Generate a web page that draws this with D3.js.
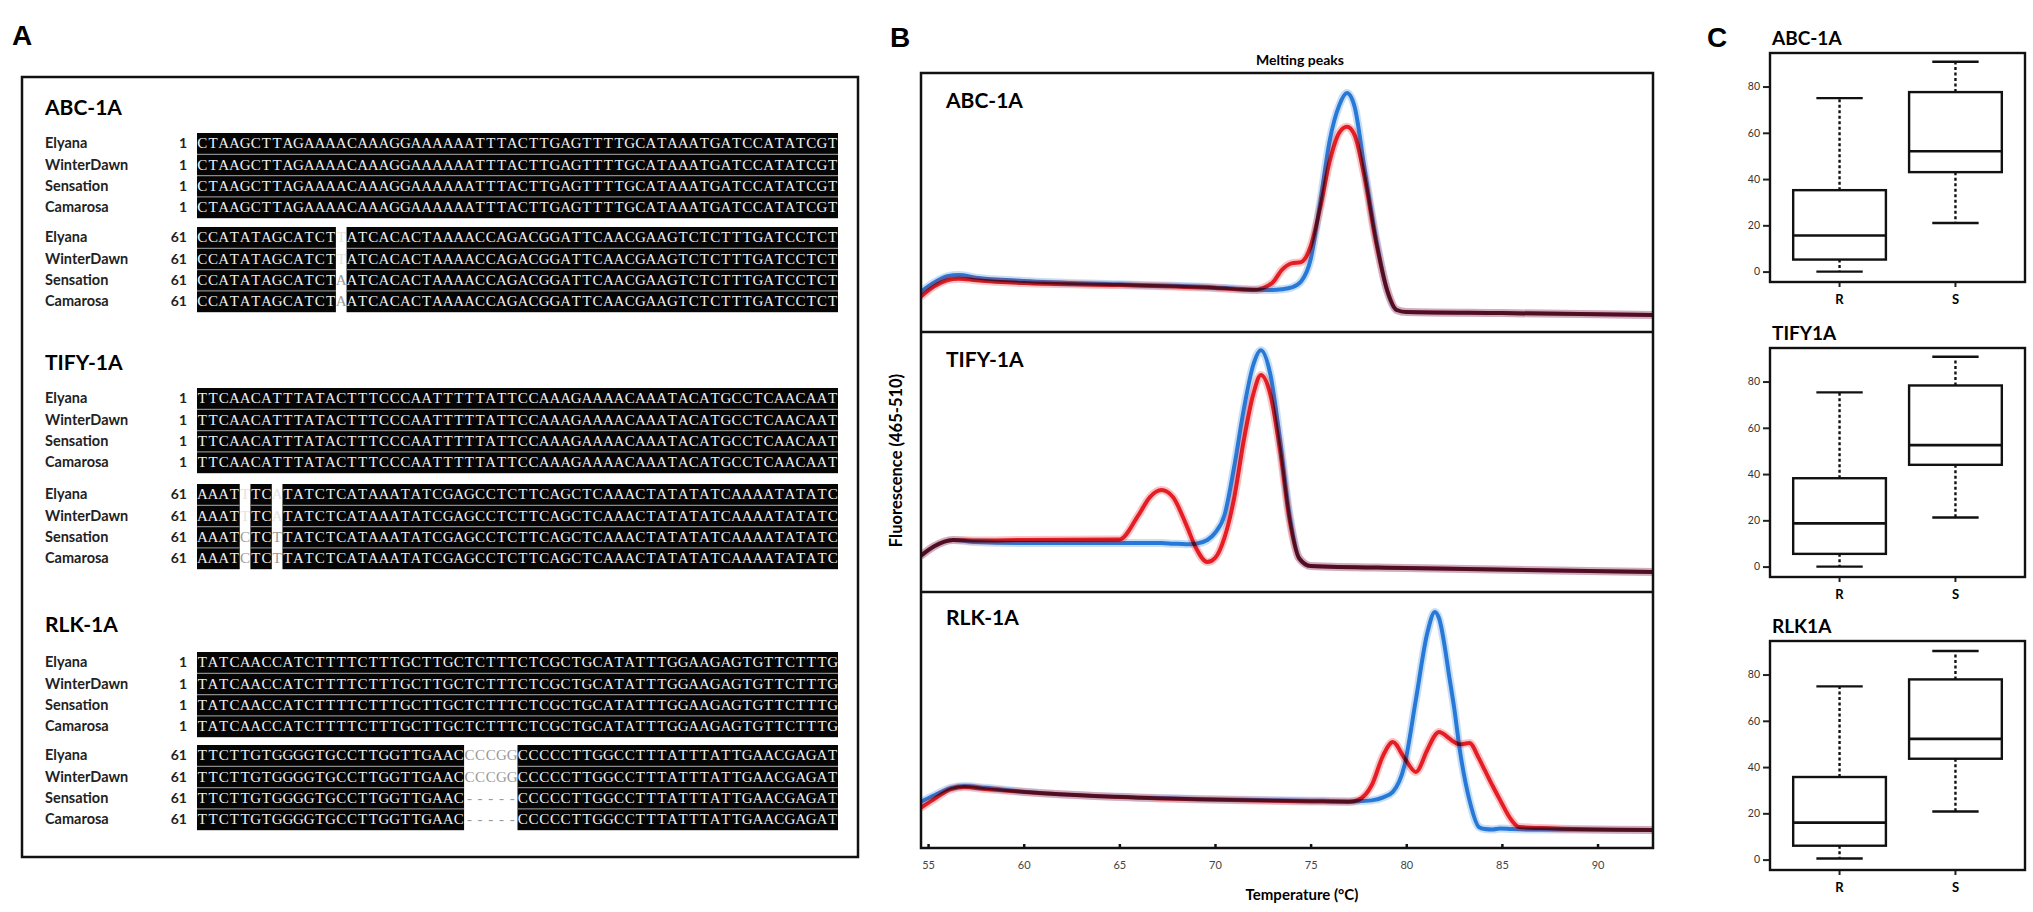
<!DOCTYPE html>
<html>
<head>
<meta charset="utf-8">
<script src="https://cdn.jsdelivr.net/npm/d3@7"></script>
<style>
  body { margin: 0; background: #fff; }
  svg { display: block; }
</style>
</head>
<body>
<div id="chart"></div>
<script>
// ==========================================================================
// DATA
// ==========================================================================

const cultivars = ['Elyana', 'WinterDawn', 'Sensation', 'Camarosa'];
const alignGenes = ['ABC-1A', 'TIFY-1A', 'RLK-1A'];
const blockStarts = [1, 61];

// consensus per block, a space marks a non-conserved column
const seqABC = [
    'CTAAGCTTAGAAAACAAAGGAAAAAATTTACTTGAGTTTTGCATAAATGATCCATATCGT',
    'CCATATAGCATCT ATCACACTAAAACCAGACGGATTCAACGAAGTCTCTTTGATCCTCT'
];
const seqTIFY = [
    'TTCAACATTTATACTTTCCCAATTTTTATTCCAAAGAAAACAAATACATGCCTCAACAAT',
    'AAAT TC TATCTCATAAATATCGAGCCTCTTCAGCTCAAACTATATATCAAAATATATC'
];
const seqRLK = [
    'TATCAACCATCTTTTCTTTGCTTGCTCTTTCTCGCTGCATATTTGGAAGAGTGTTCTTTG',
    'TTCTTGTGGGGTGCCTTGGTTGAAC     CCCCCTTGGCCTTTATTTATTGAACGAGAT'
];
// variable columns: [column, residues per cultivar]
const varABC = [[], [[13, ['T', 'T', 'A', 'A']]]];
const varTIFY = [[], [[4, ['T', 'T', 'C', 'C']], [7, ['A', 'A', 'T', 'T']]]];
const varRLK = [[], [
    [25, ['C', 'C', '-', '-']], [26, ['C', 'C', '-', '-']], [27, ['C', 'C', '-', '-']],
    [28, ['G', 'G', '-', '-']], [29, ['G', 'G', '-', '-']]
]];

// melting peaks (relative height, % of sub-panel)
const meltGenes = ['ABC-1A', 'TIFY-1A', 'RLK-1A'];
const tempTicks = [55, 60, 65, 70, 75, 80, 85, 90];

const abcTemp = [54.6, 55.3, 56.0, 56.6, 57.5, 60, 65, 70, 72, 73, 73.5, 74.0, 74.5, 75.0, 75.5, 76.0, 76.5, 76.9, 77.3, 77.8, 78.4, 79.0, 79.5, 80, 85, 92.9];
const abcRed  = [13.5, 17.5, 20.0, 20.6, 20.0, 18.9, 18.1, 17.0, 16.2, 19.0, 24.0, 26.5, 27.0, 33.0, 48.0, 66.0, 77.0, 79.2, 76.0, 60.6, 35.5, 16.2, 8.5, 7.7, 7.3, 6.6];
const abcBlue = [15.4, 19.0, 21.5, 22.0, 21.0, 19.7, 18.4, 17.2, 16.4, 16.2, 16.5, 17.2, 19.5, 28.0, 50.0, 74.0, 87.6, 92.3, 87.0, 64.0, 37.0, 16.0, 8.5, 7.7, 7.3, 6.6];

const tifyTemp = [54.6, 55.3, 56.3, 57.5, 60, 65, 66, 66.6, 67.2, 67.8, 68.5, 69.0, 69.6, 70.0, 70.5, 71.0, 71.5, 72.0, 72.4, 72.9, 73.4, 73.9, 74.4, 75, 80, 92.9];
const tifyRed  = [13.8, 17.5, 20.0, 19.8, 20.0, 20.2, 29.6, 36.5, 39.2, 36.5, 25.8, 17.0, 11.5, 13.0, 21.0, 36.0, 58.0, 76.0, 83.5, 75.8, 54.6, 27.7, 13.0, 10.0, 9.2, 7.7];
const tifyBlue = [13.8, 17.5, 20.0, 19.2, 18.8, 18.8, 18.8, 18.8, 18.8, 18.6, 18.4, 18.6, 20.0, 22.7, 29.6, 48.0, 70.0, 87.3, 93.0, 83.5, 58.5, 29.6, 13.0, 10.0, 9.2, 7.7];

const rlkTemp = [54.6, 55.3, 56.2, 56.9, 58, 60, 65, 70, 75, 77, 77.5, 78.2, 78.8, 79.3, 79.9, 80.5, 81.1, 81.5, 81.7, 82.3, 82.5, 82.8, 83.3, 83.8, 84.1, 84.5, 84.9, 85.5, 85.9, 87, 92.9];
const rlkRed  = [15.6, 19.0, 23.0, 23.8, 23.0, 21.9, 19.9, 18.8, 18.2, 18.0, 18.8, 24.6, 36.3, 41.4, 35.2, 29.7, 38.3, 44.0, 45.3, 42.5, 41.4, 40.5, 41.0, 35.0, 30.5, 24.5, 18.8, 10.9, 8.2, 7.8, 7.0];
const rlkBlue = [18.0, 20.5, 23.5, 24.2, 23.5, 22.0, 20.0, 19.0, 18.5, 18.3, 18.3, 18.6, 19.8, 21.9, 32.0, 57.8, 84.0, 92.2, 90.0, 64.5, 55.0, 38.3, 18.8, 8.2, 7.4, 7.2, 7.6, 7.4, 7.3, 7.2, 7.0];

// boxplots: [min, q1, median, q3, max]
const boxGenes = ['ABC-1A', 'TIFY1A', 'RLK1A'];
const boxGroups = ['R', 'S'];
const boxTicks = [0, 20, 40, 60, 80];
const statsR = [[0, 5.2, 15.6, 35.2, 75.0], [0, 5.5, 18.7, 38.2, 75.3], [0.5, 6.0, 16.0, 35.7, 74.9]];
const statsS = [[21.0, 43.0, 52.0, 77.6, 90.7], [21.2, 44.0, 52.5, 78.3, 90.7], [20.8, 43.6, 52.2, 77.9, 90.2]];

// ==========================================================================
// LAYOUT
// ==========================================================================

const CFG = {
    width: 2033,
    height: 912,
    fontTitle: 'Lato, "Open Sans", sans-serif',
    fontLabel: '"Liberation Sans", Arial, sans-serif',
    red: '#e8141c',
    blue: '#1f7fdc',
    align: {
        frame: { x0: 22, y0: 77, x1: 858, y1: 857 },
        x0: 197, x1: 838, rowH: 21.3,
        titleY: [115, 370, 632],
        tops: [[133, 227], [388, 484], [652, 745]]
    },
    melt: {
        x0: 921, x1: 1653, y0: 73, y1: 848,
        splits: [73, 332, 592, 848]
    },
    box: {
        x0: 1770, x1: 2025, tops: [53, 348, 641], h: 229
    }
};

const svg = d3.select('#chart').append('svg')
    .attr('width', CFG.width)
    .attr('height', CFG.height);

function panelLetter(txt, x, y) {
    svg.append('text').attr('x', x).attr('y', y)
        .style('font-family', CFG.fontLabel).style('font-weight', 'bold')
        .style('font-size', '28px').text(txt);
}

// ==========================================================================
// PANEL A - ALIGNMENTS
// ==========================================================================

function drawAlignment() {
    const A = CFG.align;
    const g = svg.append('g').attr('class', 'panel-a');
    panelLetter('A', 12, 45);

    g.append('rect')
        .attr('x', A.frame.x0).attr('y', A.frame.y0)
        .attr('width', A.frame.x1 - A.frame.x0).attr('height', A.frame.y1 - A.frame.y0)
        .attr('fill', 'none').attr('stroke', '#111').attr('stroke-width', 2.5);

    const col = d3.scaleBand().domain(d3.range(60)).range([A.x0, A.x1]);
    const seqs = [seqABC, seqTIFY, seqRLK];
    const vars = [varABC, varTIFY, varRLK];

    alignGenes.forEach((gene, gi) => {
        g.append('text').attr('x', 45).attr('y', A.titleY[gi])
            .style('font-family', CFG.fontTitle).style('font-weight', 'bold')
            .style('font-size', '21px').text(gene);

        blockStarts.forEach((start, bi) => {
            const top = A.tops[gi][bi];
            const row = d3.scaleBand().domain(cultivars).range([top, top + 4 * A.rowH]);
            const seq = seqs[gi][bi];
            const varMap = new Map(vars[gi][bi]);

            // black runs of conserved columns
            const runs = [];
            let s = null;
            for (let j = 0; j <= seq.length; j++) {
                const on = j < seq.length && seq[j] !== ' ';
                if (on && s === null) s = j;
                if (!on && s !== null) { runs.push([s, j - 1]); s = null; }
            }
            g.selectAll(null).data(runs).enter().append('rect')
                .attr('x', d => col(d[0]))
                .attr('y', top)
                .attr('width', d => col(d[1]) + col.bandwidth() - col(d[0]))
                .attr('height', 4 * A.rowH)
                .attr('fill', '#050505');

            cultivars.forEach((c, ci) => {
                const yb = row(c) + A.rowH * 0.72;
                g.append('text').attr('x', 45).attr('y', yb)
                    .style('font-family', CFG.fontTitle).style('font-weight', 'bold')
                    .style('font-size', '14.5px').style('fill', '#222').text(c);
                g.append('text').attr('x', 187).attr('y', yb).attr('text-anchor', 'end')
                    .style('font-family', CFG.fontTitle).style('font-weight', 'bold')
                    .style('font-size', '14px').style('fill', '#222').text(start);

                if (ci > 0) {
                    runs.forEach(r => {
                        g.append('line')
                            .attr('x1', col(r[0])).attr('x2', col(r[1]) + col.bandwidth())
                            .attr('y1', row(c)).attr('y2', row(c))
                            .attr('stroke', '#8a8a8a').attr('stroke-width', 1.2);
                    });
                }

                const letters = seq.split('').map((ch, j) => {
                    const v = varMap.get(j);
                    return { j, ch: v ? v[ci] : ch, varied: !!v, faint: v && ci < 2 && gi < 2 };
                });
                g.selectAll(null).data(letters).enter().append('text')
                    .attr('x', d => col(d.j) + col.bandwidth() / 2)
                    .attr('y', yb)
                    .attr('text-anchor', 'middle')
                    .style('font-family', '"Liberation Serif", "DejaVu Serif", serif')
                    .style('font-size', '15px')
                    .style('fill', d => d.varied ? (d.faint ? '#e4e4e4' : '#9a9a9a') : '#f0f0f0')
                    .text(d => d.ch);
            });
        });
    });
}

// ==========================================================================
// PANEL B - MELTING PEAKS
// ==========================================================================

function drawMelt() {
    const M = CFG.melt;
    const g = svg.append('g').attr('class', 'panel-b');
    panelLetter('B', 890, 47);

    const x = d3.scaleLinear().domain([54.63, 92.9]).range([M.x0, M.x1]);
    const series = [
        [abcTemp, abcRed, abcBlue],
        [tifyTemp, tifyRed, tifyBlue],
        [rlkTemp, rlkRed, rlkBlue]
    ];

    g.append('clipPath').attr('id', 'melt-clip').append('rect')
        .attr('x', M.x0).attr('y', M.y0).attr('width', M.x1 - M.x0).attr('height', M.y1 - M.y0);

    meltGenes.forEach((gene, i) => {
        const top = M.splits[i], bottom = M.splits[i + 1];
        const y = d3.scaleLinear().domain([0, 100]).range([bottom, top]);
        const [temps, red, blue] = series[i];
        const line = d3.line()
            .x(d => x(d[0])).y(d => y(d[1]))
            .curve(d3.curveMonotoneX);

        const curves = g.append('g').attr('clip-path', 'url(#melt-clip)');
        [[blue, CFG.blue], [red, CFG.red]].forEach(([vals, colour]) => {
            const pts = temps.map((t, k) => [t, vals[k]]);
            curves.append('path').datum(pts).attr('d', line)
                .attr('fill', 'none').attr('stroke', colour)
                .attr('stroke-width', 8).attr('stroke-opacity', 0.25)
                .attr('stroke-linejoin', 'round');
            curves.append('path').datum(pts).attr('d', line)
                .attr('fill', 'none').attr('stroke', colour)
                .attr('stroke-width', 4).attr('stroke-opacity', 0.92)
                .attr('stroke-linejoin', 'round')
                .style('mix-blend-mode', 'multiply');
        });

        g.append('text').attr('x', 946).attr('y', top + (i === 2 ? 33 : 35))
            .style('font-family', CFG.fontTitle).style('font-weight', 'bold')
            .style('font-size', '21px').text(gene);

        if (i > 0) {
            g.append('line').attr('x1', M.x0).attr('x2', M.x1)
                .attr('y1', top).attr('y2', top)
                .attr('stroke', '#111').attr('stroke-width', 2.5);
        }
    });

    g.append('rect')
        .attr('x', M.x0).attr('y', M.y0)
        .attr('width', M.x1 - M.x0).attr('height', M.y1 - M.y0)
        .attr('fill', 'none').attr('stroke', '#111').attr('stroke-width', 2.5);

    const axis = g.append('g')
        .attr('transform', `translate(0,${M.y1})`)
        .call(d3.axisBottom(x).tickValues(tempTicks).tickSize(-4).tickPadding(13));
    axis.select('.domain').remove();
    axis.selectAll('.tick line').attr('stroke', '#111').attr('stroke-width', 2.5);
    axis.selectAll('text')
        .style('font-family', CFG.fontTitle).style('font-size', '11px').style('fill', '#444');

    g.append('text').attr('x', 1300).attr('y', 65).attr('text-anchor', 'middle')
        .style('font-family', CFG.fontTitle).style('font-weight', 'bold')
        .style('font-size', '14px').text('Melting peaks');

    g.append('text').attr('x', 1302).attr('y', 900).attr('text-anchor', 'middle')
        .style('font-family', CFG.fontTitle).style('font-weight', 'bold')
        .style('font-size', '15px').text('Temperature (°C)');

    g.append('text')
        .attr('transform', `translate(902,${(M.y0 + M.y1) / 2}) rotate(-90)`)
        .attr('text-anchor', 'middle')
        .style('font-family', CFG.fontTitle).style('font-weight', 'bold')
        .style('font-size', '16.5px').text('Fluorescence (465-510)');
}

// ==========================================================================
// PANEL C - BOXPLOTS
// ==========================================================================

function drawBoxes() {
    const B = CFG.box;
    const g = svg.append('g').attr('class', 'panel-c');
    panelLetter('C', 1707, 47);

    const x = d3.scaleLinear().domain([0.4, 2.6]).range([B.x0, B.x1]);
    const half = x(1.4) - x(1), cap = x(1.2) - x(1);

    boxGenes.forEach((gene, i) => {
        const top = B.tops[i], bottom = top + B.h;
        const y = d3.scaleLinear().domain([-4.5, 94.5]).range([bottom, top]);

        g.append('text').attr('x', 1772).attr('y', top - 8)
            .style('font-family', CFG.fontTitle).style('font-weight', 'bold')
            .style('font-size', '19px').text(gene);

        const ax = g.append('g').attr('transform', `translate(${B.x0},0)`)
            .call(d3.axisLeft(y).tickValues(boxTicks).tickSize(7).tickPadding(3));
        ax.select('.domain').remove();
        ax.selectAll('.tick line').attr('stroke', '#222').attr('stroke-width', 2);
        ax.selectAll('text')
            .style('font-family', CFG.fontTitle).style('font-size', '10.5px').style('fill', '#333');

        [statsR[i], statsS[i]].forEach((st, k) => {
            const cx = x(k + 1);
            const [mn, q1, md, q3, mx] = st;
            // whiskers
            [[q3, mx], [q1, mn]].forEach(([a, b]) => {
                g.append('line').attr('x1', cx).attr('x2', cx)
                    .attr('y1', y(a)).attr('y2', y(b))
                    .attr('stroke', '#111').attr('stroke-width', 2.4)
                    .attr('stroke-dasharray', '3,2.5');
                g.append('line').attr('x1', cx - cap).attr('x2', cx + cap)
                    .attr('y1', y(b)).attr('y2', y(b))
                    .attr('stroke', '#111').attr('stroke-width', 2.4);
            });
            g.append('rect')
                .attr('x', cx - half).attr('y', y(q3))
                .attr('width', 2 * half).attr('height', y(q1) - y(q3))
                .attr('fill', '#fff').attr('stroke', '#111').attr('stroke-width', 2.4);
            g.append('line').attr('x1', cx - half).attr('x2', cx + half)
                .attr('y1', y(md)).attr('y2', y(md))
                .attr('stroke', '#111').attr('stroke-width', 2.6);

            g.append('line').attr('x1', cx).attr('x2', cx)
                .attr('y1', bottom).attr('y2', bottom + 5)
                .attr('stroke', '#222').attr('stroke-width', 2);
            g.append('text').attr('x', cx).attr('y', bottom + 22).attr('text-anchor', 'middle')
                .style('font-family', CFG.fontTitle).style('font-weight', 'bold')
                .style('font-size', '13px').text(boxGroups[k]);
        });

        g.append('rect')
            .attr('x', B.x0).attr('y', top)
            .attr('width', B.x1 - B.x0).attr('height', B.h)
            .attr('fill', 'none').attr('stroke', '#111').attr('stroke-width', 2.4);
    });
}

drawAlignment();
drawMelt();
drawBoxes();
</script>
</body>
</html>
